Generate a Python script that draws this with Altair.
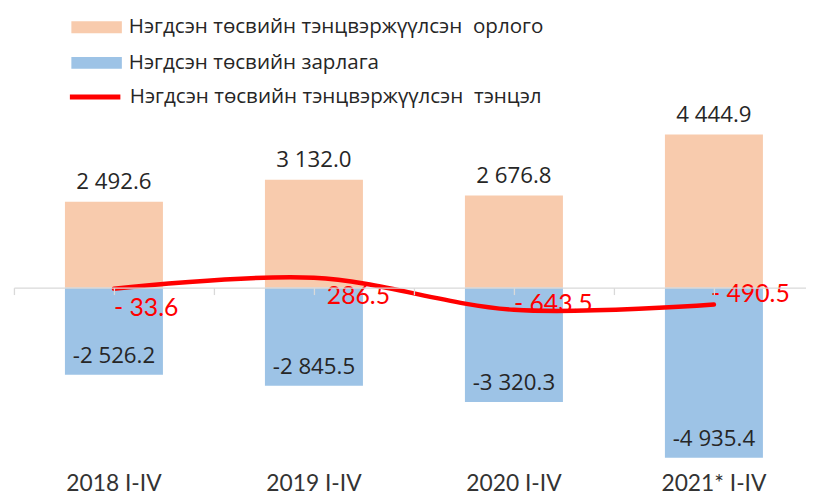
import altair as alt
import pandas as pd

# ---------------- data ----------------
categories = ["2018 I-IV", "2019 I-IV", "2020 I-IV", "2021* I-IV"]
revenue = [2492.6, 3132.0, 2676.8, 4444.9]
expenditure = [-2526.2, -2845.5, -3320.3, -4935.4]
balance = [-33.6, 286.5, -643.5, -490.5]

rev_name = "Нэгдсэн төсвийн тэнцвэржүүлсэн\u00a0 орлого"
exp_name = "Нэгдсэн төсвийн зарлага"
bal_name = "Нэгдсэн төсвийн тэнцвэржүүлсэн\u00a0 тэнцэл"


def fmt(v):
    s = f"{abs(v):,.1f}".replace(",", " ")
    return ("-" if v < 0 else "") + s


def fmt_bal(v):
    s = f"{abs(v):,.1f}".replace(",", " ")
    return ("- " if v < 0 else "") + s


bars_df = pd.DataFrame(
    [{"category": c, "series": rev_name, "value": v, "label": fmt(v)} for c, v in zip(categories, revenue)]
    + [{"category": c, "series": exp_name, "value": v, "label": fmt(v)} for c, v in zip(categories, expenditure)]
)
bal_df = pd.DataFrame(
    [{"category": c, "line_series": bal_name, "value": v, "label": fmt_bal(v)} for c, v in zip(categories, balance)]
)

# ---------------- layout ----------------
VIEW_TOP = 18      # page y of plot top
ZERO = 288         # page y of zero line
VIEW_BOTTOM = 466  # page y of plot bottom
SVG_BOTTOM = 495
K = 0.0348         # px per unit
H = VIEW_BOTTOM - VIEW_TOP
W = 808            # plot runs past the right page edge (clipped), like the reference
ymax = (ZERO - VIEW_TOP) / K
ymin = -(VIEW_BOTTOM - ZERO) / K

NUM_FONT = "Open Sans"
NARROW = "Lato"
TXT = "#262626"
GRID = "#D9D9D9"

xscale = alt.Scale(domain=categories, paddingInner=0, paddingOuter=0)
yscale = alt.Scale(domain=[ymin, ymax], nice=False, zero=False)

bars = alt.Chart(bars_df).mark_bar(width=alt.RelativeBandSize(0.49)).encode(
    x=alt.X("category:N", sort=categories, scale=xscale, title=None,
            axis=alt.Axis(orient="bottom", domain=False, ticks=False, labelAngle=0,
                          labelPadding=9, labelFont=NARROW, labelFontSize=23,
                          labelFontWeight=400, labelColor="#333333", grid=False)),
    y=alt.Y("value:Q", scale=yscale, stack=None, axis=None),
    color=alt.Color("series:N",
                    scale=alt.Scale(domain=[rev_name, exp_name], range=["#F8CBAD", "#9DC3E6"]),
                    legend=alt.Legend(orient="none", legendX=58, legendY=-18.5, direction="vertical",
                                      title=None, symbolType="M-1,-0.235H1V0.235H-1Z",
                                      symbolSize=2601, symbolStrokeWidth=0, labelFont=NUM_FONT,
                                      labelFontSize=20.8, labelColor=TXT, labelOffset=7,
                                      rowPadding=0, padding=0, labelLimit=0)),
)

rev_labels = alt.Chart(bars_df).transform_filter(alt.datum.value > 0).mark_text(
    baseline="middle", dy=-20, font=NUM_FONT, fontSize=22.5, color=TXT
).encode(
    x=alt.X("category:N", sort=categories, scale=xscale, title=None,
            axis=alt.Axis(orient="bottom", offset=-(VIEW_BOTTOM - ZERO), labels=False,
                          domain=False, ticks=True, tickBand="center", tickSize=7,
                          tickColor=GRID, tickWidth=1.3, grid=False, zindex=1)),
    y=alt.Y("value:Q", scale=yscale, axis=None),
    text="label:N",
)

exp_labels = alt.Chart(bars_df).transform_filter(alt.datum.value < 0).mark_text(
    baseline="middle", dy=-19, font=NUM_FONT, fontSize=22.5, color=TXT
).encode(
    x=alt.X("category:N", sort=categories, scale=xscale, axis=None),
    y=alt.Y("value:Q", scale=yscale, axis=None),
    text="label:N",
)

line = alt.Chart(bal_df).mark_line(interpolate="catmull-rom", strokeWidth=4.5, strokeCap="round").encode(
    x=alt.X("category:N", sort=categories, scale=xscale, title=None,
            axis=alt.Axis(orient="bottom", offset=-(VIEW_BOTTOM - ZERO), labels=False,
                          domain=True, domainColor=GRID, domainWidth=1.3, ticks=True,
                          tickBand="extent", tickSize=7, tickColor=GRID, tickWidth=1.3,
                          grid=False, zindex=1)),
    y=alt.Y("value:Q", scale=yscale, axis=None),
    stroke=alt.Stroke("line_series:N",
                      scale=alt.Scale(domain=[bal_name], range=["#FF0000"]),
                      legend=alt.Legend(orient="none", legendX=54, legendY=49.5, direction="vertical",
                                        title=None, symbolType="stroke", symbolSize=2601,
                                        symbolStrokeWidth=5, labelFont=NUM_FONT, labelFontSize=20.8,
                                        labelColor=TXT, labelOffset=7, padding=0, labelLimit=0)),
)

# label placement (offsets from the zero line), one style per category
label_offsets = [(0, 21), (13, 9), (0, 17), (-3, 7)]
bal_label_layers = []
for cat, (ddx, ddy) in zip(categories, label_offsets):
    bal_label_layers.append(
        alt.Chart(bal_df).transform_filter(alt.datum.category == cat).mark_text(
            align="left", baseline="middle", dx=ddx, dy=ddy, font=NARROW, fontSize=25,
            fontWeight=400, color="#FF0000"
        ).encode(
            x=alt.X("category:N", sort=categories, scale=xscale, axis=None),
            y=alt.datum(0, scale=yscale),
            text="label:N",
        )
    )

chart = alt.layer(
    bars, rev_labels, exp_labels, line, *bal_label_layers
).resolve_axis(x="independent").properties(
    width=W, height=H,
    autosize=alt.AutoSizeParams(type="none"),
    padding={"left": 6, "top": VIEW_TOP - 8, "right": -8, "bottom": SVG_BOTTOM - VIEW_BOTTOM},
    background="white",
).configure_view(stroke=None)

chart.save("out.html", embed_options={"renderer": "svg", "actions": False})
